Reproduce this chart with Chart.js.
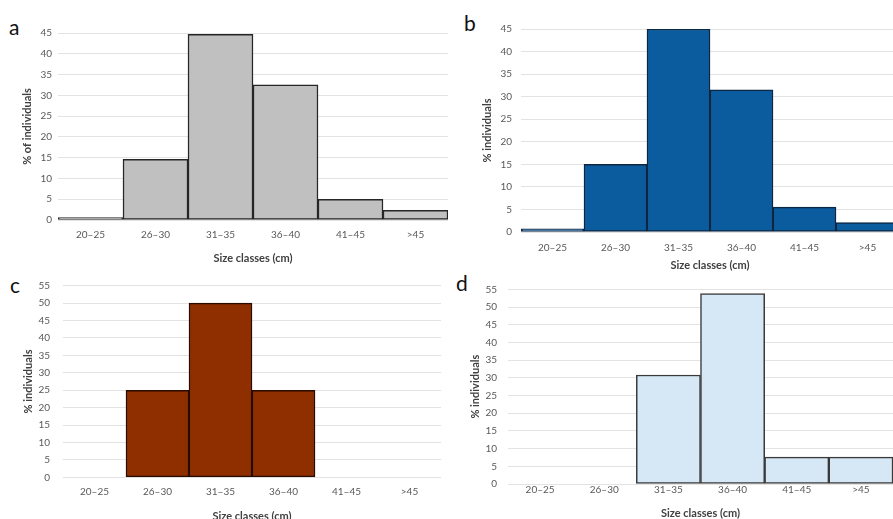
<!DOCTYPE html>
<html>
<head>
<meta charset="utf-8">
<script src="https://cdn.jsdelivr.net/npm/chart.js@4/dist/chart.umd.min.js"></script>
<style>
  html, body { margin: 0; padding: 0; background: #fff; overflow: hidden; }
  body { width: 893px; height: 519px; position: relative; }
  .panel { position: absolute; }
  .letter { position: absolute; font-family: Lato, "Liberation Sans", sans-serif; font-size: 21px; color: #111; line-height: 1; }
</style>
</head>
<body>
<div class="letter" style="left:9px;top:16px">a</div>
<div class="letter" style="left:464px;top:12px">b</div>
<div class="letter" style="left:10px;top:274px">c</div>
<div class="letter" style="left:456px;top:272px">d</div>

<div class="panel" id="pa" style="left:0;top:0;width:448px;height:265px"><canvas id="ca"></canvas></div>
<div class="panel" id="pb" style="left:445px;top:0;width:454px;height:272px"><canvas id="cb"></canvas></div>
<div class="panel" id="pc" style="left:0;top:265px;width:441px;height:262px"><canvas id="cc"></canvas></div>
<div class="panel" id="pd" style="left:445px;top:265px;width:448px;height:255px"><canvas id="cd"></canvas></div>

<script>
// size classes and % of individuals per panel
const sizeClasses = ['20–25', '26–30', '31–35', '36–40', '41–45', '>45'];
const valuesA = [0.6, 14.6, 44.7, 32.5, 5.0, 2.3];
const valuesB = [0.7, 15.0, 45.0, 31.5, 5.5, 2.1];
const valuesC = [0, 25, 50, 25, 0, 0];
const valuesD = [0, 0, 30.8, 53.8, 7.6, 7.6];
const yMaxTop = 45;
const yMaxBottom = 55;
const yStep = 5;

const FONT = 'Lato, "Liberation Sans", sans-serif';

function makeChart(id, values, opts) {
    new Chart(document.getElementById(id), {
        type: 'bar',
        data: {
            labels: sizeClasses,
            datasets: [{
                data: values,
                backgroundColor: opts.fill,
                borderColor: opts.border,
                borderWidth: 1.5,
                borderSkipped: false,
                categoryPercentage: 1,
                barPercentage: 1
            }]
        },
        options: {
            responsive: true,
            maintainAspectRatio: false,
            animation: false,
            layout: { padding: { top: opts.padTop, left: 0, right: 0, bottom: 0 } },
            plugins: { legend: { display: false }, tooltip: { enabled: false } },
            scales: {
                x: {
                    grid: { display: false, drawTicks: false },
                    border: { display: false },
                    ticks: {
                        color: '#595959',
                        font: { family: FONT, size: 10 },
                        padding: opts.xTickPad,
                        maxRotation: 0
                    },
                    title: {
                        display: true,
                        text: 'Size classes (cm)',
                        color: '#404040',
                        font: { family: FONT, size: 11, weight: 'bold' },
                        padding: { top: 0, bottom: opts.xTitlePad }
                    },
                    afterFit: s => { s.height = opts.xHeight; }
                },
                y: {
                    min: 0,
                    max: opts.yMax,
                    grid: { color: '#e3e3e3', lineWidth: 1, drawTicks: false },
                    border: { display: false },
                    ticks: {
                        stepSize: yStep,
                        color: '#595959',
                        font: { family: FONT, size: 10 },
                        padding: opts.yTickPad
                    },
                    title: {
                        display: true,
                        text: opts.yTitle,
                        color: '#404040',
                        font: { family: FONT, size: 11, weight: 'bold' },
                        padding: { top: opts.yTitlePad, bottom: 0 }
                    },
                    afterFit: s => { s.width = opts.yWidth; }
                }
            }
        }
    });
}

makeChart('ca', valuesA, {
    fill: '#c0c0c0', border: '#262626', yMax: yMaxTop, yTitle: '% of individuals',
    padTop: 33, yWidth: 58, yTickPad: 6, yTitlePad: 20.4, xHeight: 45, xTickPad: 9, xTitlePad: 0.4
});
makeChart('cb', valuesB, {
    fill: '#0b5c9e', border: '#0c2744', yMax: yMaxTop, yTitle: '% individuals',
    padTop: 29, yWidth: 76, yTickPad: 9, yTitlePad: 35.4, xHeight: 40, xTickPad: 10, xTitlePad: 0.4
});
makeChart('cc', valuesC, {
    fill: '#8f2f00', border: '#2a0b00', yMax: yMaxBottom, yTitle: '% individuals',
    padTop: 20.7, yWidth: 63, yTickPad: 13, yTitlePad: 21.4, xHeight: 49.7, xTickPad: 8.4, xTitlePad: 4
});
makeChart('cd', valuesD, {
    fill: '#d6e8f6', border: '#3a3a3a', yMax: yMaxBottom, yTitle: '% individuals',
    padTop: 24.3, yWidth: 63, yTickPad: 11, yTitlePad: 23.4, xHeight: 36, xTickPad: 0, xTitlePad: 0.4
});
</script>
</body>
</html>
